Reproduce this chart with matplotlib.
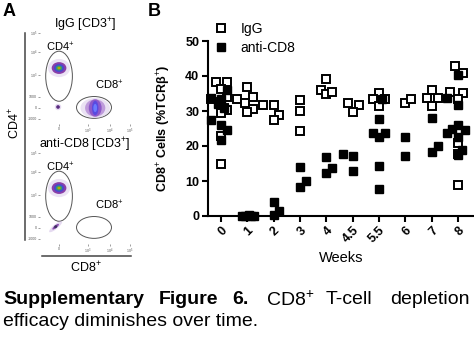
import matplotlib
matplotlib.use('Agg')
import matplotlib.pyplot as plt
from matplotlib.patches import Ellipse
from matplotlib.lines import Line2D

plt.rcParams['font.family'] = ['Liberation Sans', 'DejaVu Sans']
plt.rcParams['mathtext.fontset'] = 'custom'
plt.rcParams['mathtext.rm'] = 'Liberation Sans'
plt.rcParams['mathtext.bf'] = 'Liberation Sans:bold'
plt.rcParams['mathtext.it'] = 'Liberation Sans:italic'

# ---- data ----
weeks = ['0', '1', '2', '3', '4', '4.5', '5.5', '6', '7', '8']

# per week: horizontal jitter (in category units) and % value
igg_off = [
    [-0.19, 0.24, 0.0, 0.24, -0.38, 0.0, 0.12, 0.24, 0.0, 0.0, 0.0],
    [-0.39, 0.0, 0.22, -0.1, 0.2, 0.0],
    [-0.4, 0.0, 0.2, 0.0],
    [0.0, 0.0, 0.0],
    [0.0, -0.22, 0.0, 0.22],
    [-0.19, 0.24, 0.02],
    [0.0, -0.22, 0.22, 0.0],
    [0.0, 0.22],
    [0.0, -0.2, 0.22, 0.0],
    [-0.12, 0.2, -0.3, 0.2, 0.0, 0.0, 0.0, 0.0],
]
igg_val = [
    [38.4, 38.4, 36.3, 34.0, 33.3, 32.5, 31.0, 30.3, 29.5, 23.0, 15.0],
    [33.3, 36.9, 34.1, 32.4, 30.5, 29.8],
    [31.7, 31.7, 28.9, 27.4],
    [33.1, 30.1, 24.2],
    [39.1, 36.0, 35.0, 35.3],
    [32.2, 31.7, 29.8],
    [35.2, 33.3, 33.3, 31.4],
    [32.2, 33.3],
    [36.0, 33.6, 33.6, 31.4],
    [42.9, 41.0, 35.3, 35.2, 33.4, 20.8, 17.7, 9.0],
]
anti_off = [
    [-0.38, -0.38, 0.24, 0.0, -0.12, 0.0, 0.24, 0.0, 0.12],
    [-0.2, -0.08, 0.05, 0.15, 0.25],
    [0.0, 0.2, 0.0],
    [0.0, 0.22, 0.0],
    [0.0, 0.2, 0.0],
    [-0.38, 0.0, 0.0],
    [0.1, 0.0, -0.22, 0.22, 0.0, 0.0, 0.0],
    [0.0, 0.0],
    [0.0, 0.22, 0.0],
    [0.0, -0.42, 0.0, 0.0, -0.22, 0.26, -0.44, 0.0, 0.14, 0.0],
]
anti_val = [
    [33.8, 27.4, 36.0, 33.5, 32.0, 26.0, 24.6, 21.7, 30.8],
    [0.0, 0.1, 0.3, 0.1, 0.0],
    [4.0, 1.5, 0.3],
    [14.0, 10.0, 8.2],
    [16.8, 13.6, 12.2],
    [17.7, 17.1, 12.9],
    [33.5, 27.6, 23.6, 23.6, 22.7, 14.3, 7.7],
    [22.7, 17.2],
    [27.9, 20.1, 18.4],
    [40.3, 33.7, 31.7, 26.0, 25.0, 24.6, 23.8, 22.7, 19.0, 17.4],
]

W, H = 474, 337
fig = plt.figure(figsize=(W / 100, H / 100), dpi=100)


def fx(x):
    return x / W


def fy(y):
    return 1 - y / H


# ---------------- panel B ----------------
ax = fig.add_axes([fx(207.7), fy(216), (W - 207.7) / W, 175 / H])
for i, w in enumerate(weeks):
    xs = [i + o for o in igg_off[i]]
    ax.plot(xs, igg_val[i], 's', ms=5.3, mfc='white', mec='black', mew=1.4,
            clip_on=False, label='IgG' if i == 0 else None, zorder=3)
    xs = [i + o for o in anti_off[i]]
    ax.plot(xs, anti_val[i], 's', ms=5.3, mfc='black', mec='black', mew=1.0,
            clip_on=False, label='anti-CD8' if i == 0 else None, zorder=4)

ax.set_xlim(-0.5, 9.6)
ax.set_ylim(0, 50)
ax.set_yticks([0, 10, 20, 30, 40, 50])
ax.set_xticks(range(len(weeks)))
ax.set_xticklabels(weeks, rotation=45, ha='right', rotation_mode='anchor')
for s in ['top', 'right']:
    ax.spines[s].set_visible(False)
for s in ['left', 'bottom']:
    ax.spines[s].set_linewidth(1.5)
ax.tick_params(direction='out', length=4, width=1.5, labelsize=9, pad=2)
for lab in ax.get_xticklabels() + ax.get_yticklabels():
    lab.set_fontweight('bold')
ax.set_ylabel('CD8$^{+}$ Cells (%TCR\u03b2$^{+}$)', fontsize=9, fontweight='bold')
ax.yaxis.set_label_coords(-0.13, 0.5)
ax.set_xlabel('Weeks', fontsize=10.5, labelpad=4)
fig.legend(loc='center left', bbox_to_anchor=(fx(214), fy(38.5)), frameon=False,
           fontsize=10, handlelength=1.0, handletextpad=0.9, borderpad=0,
           borderaxespad=0, labelspacing=0.35)
fig.text(fx(148), fy(12), 'B', fontsize=13, fontweight='bold', va='center')

# ---------------- panel A ----------------
fig.text(fx(3), fy(12), 'A', fontsize=13, fontweight='bold', va='center')


def flow_axes(top, title, cd8_present):
    a = fig.add_axes([fx(40), fy(top + 91), 92 / W, 91 / H])
    a.set_xlim(0, 100)
    a.set_ylim(0, 100)
    for s in a.spines.values():
        s.set_visible(False)
    a.set_xticks([20.7, 52, 76, 97.8])
    a.set_xticklabels(['0', '10$^3$', '10$^4$', '10$^5$'])
    a.set_yticks([5.5, 17.6, 29.7, 54, 79, 100])
    a.set_yticklabels(['-1000', '0', '1000', '10$^3$', '10$^4$', '10$^5$'])
    a.tick_params(length=1.2, width=0.4, labelsize=2.6, pad=1, colors='#555555')
    # gates
    a.add_patch(Ellipse((20.7, 52.5), 29, 55, fill=False, ec='#555555', lw=0.7))
    a.add_patch(Ellipse((58.7, 18.2), 38, 24, fill=False, ec='#555555', lw=0.7))
    a.text(21.7, 84, 'CD4$^{+}$', fontsize=8, ha='center', va='center')
    a.text(75, 42, 'CD8$^{+}$', fontsize=8, ha='center', va='center')
    # CD4 population
    for w, h, c, al in [(24, 20, '#d9c8ea', 0.5), (16, 13, '#8a3fa8', 1),
                        (11, 9, '#4a46d0', 1), (7, 5.5, '#2f9e6f', 1),
                        (3.5, 3, '#b8a600', 1)]:
        a.add_patch(Ellipse((20.7, 61.5), w, h, color=c, alpha=al, lw=0))
    if cd8_present:
        for w, h, c, al in [(32, 22, '#ddd0ec', 0.6), (22, 19, '#b48ad6', 0.8),
                            (14, 19, '#8a52c8', 0.9), (7, 16, '#5a4ae0', 1),
                            (4, 9, '#6a7cff', 1)]:
            a.add_patch(Ellipse((60, 17.6), w, h, color=c, alpha=al, lw=0))
        for w, h, c, al in [(7, 7, '#cdb6e3', 0.5), (4, 4, '#5a2c80', 1)]:
            a.add_patch(Ellipse((19.6, 18.7), w, h, color=c, alpha=al, lw=0))
    else:
        for w, h, c, al in [(18, 5, '#cdb6e3', 0.5), (9, 3, '#8a4fb0', 1),
                            (3.5, 3, '#3d3060', 1)]:
            a.add_patch(Ellipse((17, 19), w, h, angle=40, color=c, alpha=al, lw=0))
    fig.text(fx(85), fy(top - 8), title, fontsize=9, ha='center', va='center')
    return a


flow_axes(33, 'IgG [CD3$^{+}$]', True)
flow_axes(153, 'anti-CD8 [CD3$^{+}$]', False)
fig.add_artist(Line2D([fx(25), fx(25)], [fy(33), fy(240)], color='#444444', lw=1.1))
fig.add_artist(Line2D([fx(42), fx(131)], [fy(256), fy(256)], color='#444444', lw=1.1))
fig.text(fx(15), fy(123), 'CD4$^{+}$', fontsize=9, rotation=90, ha='center', va='center')
fig.text(fx(86), fy(268), 'CD8$^{+}$', fontsize=9, ha='center', va='center')

# ---------------- caption ----------------
cap_y1, cap_y2 = fy(300), fy(321.5)
words = [('Supplementary', 3, 'bold'), ('Figure', 159, 'bold'), ('6.', 232, 'bold'),
         ('CD8$^{+}$', 266, 'normal'), ('T-cell', 326, 'normal'), ('depletion', 390, 'normal')]
for t, x, wgt in words:
    fig.text(fx(x), cap_y1, t, fontsize=14, fontweight=wgt, ha='left', va='center')
fig.text(fx(3), cap_y2, 'efficacy diminishes over time.', fontsize=14, ha='left', va='center')

fig.savefig('out.png', dpi=100)
